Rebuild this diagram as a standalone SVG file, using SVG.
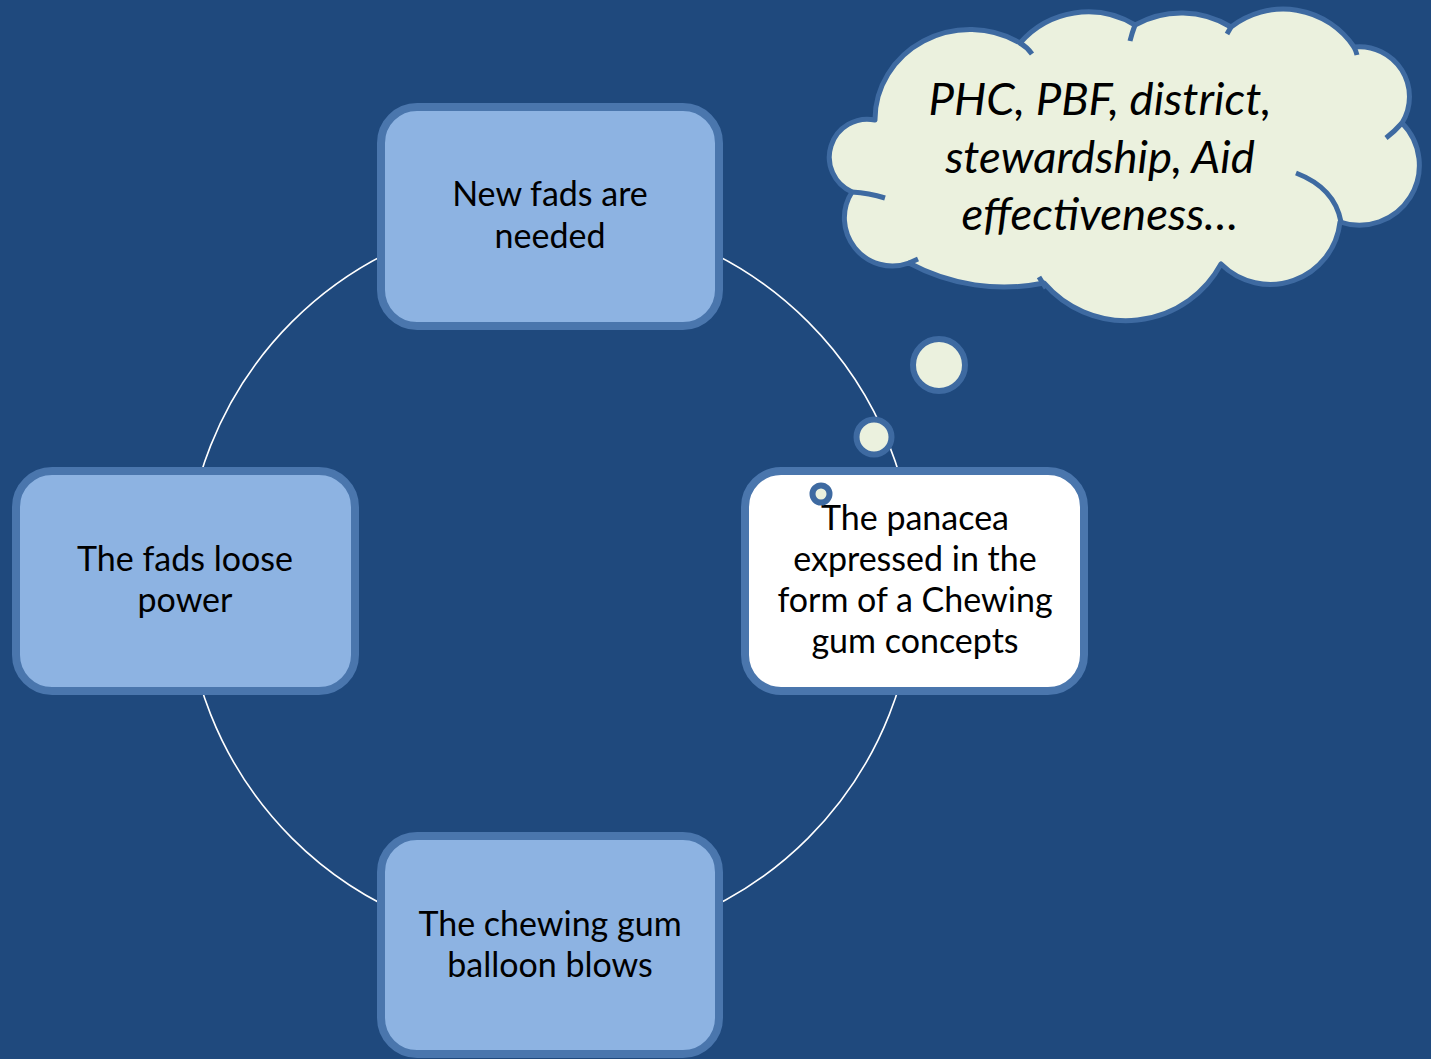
<svg xmlns="http://www.w3.org/2000/svg" width="1431" height="1059" viewBox="0 0 1431 1059">
  <style>
    .box { fill: #8db3e2; stroke: #4a76ad; stroke-width: 8; }
    .box-hi { fill: #ffffff; stroke: #4a76ad; stroke-width: 8; }
    .label { font-family: Lato, "Open Sans", sans-serif; font-size: 34px; fill: #000000; text-anchor: middle; }
    .thought { font-family: Lato, "Open Sans", sans-serif; font-style: italic; font-size: 45.5px; fill: #000000; text-anchor: middle; }
    .cloud { fill: #ebf1de; stroke: #3e6aa1; stroke-width: 5; stroke-linejoin: round; }
    .stub { fill: none; stroke: #3e6aa1; stroke-width: 5; stroke-linecap: butt; }
    .bubble { fill: #ebf1de; stroke: #3e6aa1; stroke-width: 6; }
    .link { fill: none; stroke: #ffffff; stroke-width: 1.6; }
  </style>

  <rect x="0" y="0" width="1431" height="1059" fill="#1f497d"/>

  <!-- cycle ring running behind the four steps -->
  <g id="connectors">
    <circle class="link" cx="550" cy="580" r="365"/>
  </g>

  <g id="node-new-fads">
    <rect class="box" x="381" y="107" width="338" height="219" rx="36"/>
    <text class="label" x="550" y="206">New fads are</text>
    <text class="label" x="550" y="248">needed</text>
  </g>

  <g id="node-panacea">
    <rect class="box-hi" x="745" y="471" width="339" height="220" rx="36"/>
    <text class="label" x="915" y="530">The panacea</text>
    <text class="label" x="915" y="571">expressed in the</text>
    <text class="label" x="915" y="612">form of a Chewing</text>
    <text class="label" x="915" y="653">gum concepts</text>
  </g>

  <g id="node-balloon">
    <rect class="box" x="381" y="836" width="338" height="218" rx="36"/>
    <text class="label" x="550" y="936">The chewing gum</text>
    <text class="label" x="550" y="977">balloon blows</text>
  </g>

  <g id="node-loose-power">
    <rect class="box" x="16" y="471" width="339" height="220" rx="36"/>
    <text class="label" x="185" y="571">The fads loose</text>
    <text class="label" x="185" y="612">power</text>
  </g>

  <!-- thought cloud with its trail of bubbles -->
  <g id="node-thought">
    <circle class="bubble" cx="821" cy="494" r="8.5" stroke-width="5" stroke="#3b6596"/>
    <circle class="bubble" cx="874" cy="437" r="17.5" stroke-width="5"/>
    <circle class="bubble" cx="939" cy="365" r="26"/>
    <path class="cloud" d="M875,120 A95,90 0 0 1 1020,43 A90,90 0 0 1 1135,25 A95,95 0 0 1 1231,27 A85,85 0 0 1 1354,47 A50,50 0 0 1 1402,123 A60,60 0 0 1 1340,222 A70,70 0 0 1 1221,264 A108,108 0 0 1 1044,283 A200,200 0 0 1 909,263 A48,48 0 0 1 852,192 A38,38 0 0 1 875,120 Z"/>
    <path class="stub" d="M1020,43 Q1027,47 1032,54"/>
    <path class="stub" d="M1135,25 Q1132,33 1130,41"/>
    <path class="stub" d="M1231,27 L1227,34"/>
    <path class="stub" d="M1354,47 Q1356,51 1357,55"/>
    <path class="stub" d="M1402,123 Q1395,131 1386,138"/>
    <path class="stub" d="M1296,173 Q1335,188 1341,222"/>
    <path class="stub" d="M1046,288 Q1042,282 1039,277"/>
    <path class="stub" d="M909,263 L918,259"/>
    <path class="stub" d="M852,192 Q869,193 885,198"/>
    <text class="thought" x="1100" y="115">PHC, PBF, district,</text>
    <text class="thought" x="1100" y="173">stewardship, Aid</text>
    <text class="thought" x="1100" y="230">effectiveness…</text>
  </g>
</svg>
